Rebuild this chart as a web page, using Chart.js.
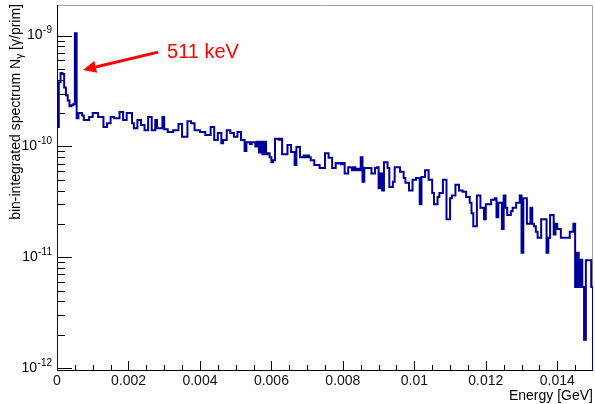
<!DOCTYPE html>
<html>
<head>
<meta charset="utf-8">
<script src="https://cdn.jsdelivr.net/npm/chart.js@4.4.0/dist/chart.umd.min.js"></script>
<style>
  html, body { margin: 0; padding: 0; background: #fff; }
</style>
</head>
<body>
<canvas id="spectrum" width="595" height="404"></canvas>
<script>
// histogram binning (GeV)
const binWidth = 0.00005;
const eMax = 0.015;

// bin-integrated spectrum, units of 1e-10 gamma/prim
const yieldLow = [
  1.5, 3.8, 4.6, 4.5, 3.4, 2.9, 2.6, 2.3, 2.35, 2.4,
  10.5, 1.8, 2.0, 2.0, 1.9, 1.73, 1.73, 1.73, 1.84, 1.84,
  2.0, 2.0, 2.0, 1.84, 1.84, 1.84, 1.5, 1.5, 1.62, 1.62,
  1.84, 1.84, 1.8, 1.8, 1.8, 2.04, 2.04, 1.73, 1.73, 2.0,
  2.0, 2.0, 1.62, 1.46, 1.46, 1.73, 1.73, 1.56, 1.56, 1.4,
  1.4, 1.84, 1.84, 1.4, 1.4, 1.73, 1.46, 1.46, 1.46, 1.84,
  1.43, 1.43, 1.35, 1.35, 1.35, 1.4, 1.4, 1.4, 1.59, 1.59,
  1.22, 1.22, 1.22, 1.69, 1.69, 1.62, 1.62, 1.4, 1.4, 1.4,
  1.35, 1.35, 1.35, 1.27, 1.27, 1.27, 1.5, 1.5, 1.14, 1.14,
  1.32, 1.32, 1.07, 1.14, 1.14, 1.4, 1.4, 1.32, 1.32, 1.22
];
const yieldMid = [
  1.22, 1.35, 1.35, 1.14, 1.14, 0.91, 1.09, 1.09, 1.05, 1.09,
  1.09, 1.0, 1.1, 0.88, 1.1, 0.85, 1.1, 0.85, 0.87, 0.8,
  0.72, 0.75, 1.17, 1.17, 1.15, 1.17, 0.85, 0.85, 0.85, 1.03,
  1.03, 0.89, 0.89, 0.68, 0.99, 0.99, 0.8, 0.8, 0.83, 0.8,
  0.83, 0.8, 0.75, 0.75, 0.68, 0.68, 0.68, 0.64, 0.64, 0.64,
  0.87, 0.87, 0.79, 0.79, 0.64, 0.64, 0.71, 0.7, 0.71, 0.69,
  0.71, 0.57, 0.57, 0.65, 0.65, 0.61, 0.65, 0.61, 0.63, 0.61,
  0.8, 0.48, 0.64, 0.64, 0.64, 0.64, 0.57, 0.57, 0.64, 0.65,
  0.42, 0.57, 0.40, 0.72, 0.72, 0.64, 0.43, 0.43, 0.48, 0.65,
  0.65, 0.65, 0.59, 0.59, 0.52, 0.47, 0.47, 0.40, 0.40, 0.5
];
const yieldHigh = [
  0.5, 0.52, 0.52, 0.3, 0.53, 0.53, 0.61, 0.61, 0.5, 0.5,
  0.38, 0.3, 0.3, 0.35, 0.38, 0.38, 0.5, 0.5, 0.22, 0.22,
  0.34, 0.36, 0.36, 0.45, 0.45, 0.4, 0.4, 0.39, 0.39, 0.35,
  0.35, 0.31, 0.25, 0.19, 0.19, 0.36, 0.36, 0.28, 0.28, 0.22,
  0.3, 0.3, 0.3, 0.33, 0.33, 0.34, 0.23, 0.31, 0.31, 0.18,
  0.36, 0.28, 0.24, 0.24, 0.26, 0.28, 0.28, 0.31, 0.31, 0.36,
  0.11, 0.34, 0.34, 0.2, 0.2, 0.28, 0.2, 0.19, 0.17, 0.15,
  0.15, 0.22, 0.22, 0.22, 0.11, 0.15, 0.24, 0.24, 0.16, 0.2,
  0.18, 0.18, 0.15, 0.15, 0.15, 0.15, 0.15, 0.17, 0.17, 0.2,
  0.054, 0.11, 0.054, 0.095, 0.054, 0.018, 0.094, 0.094, 0.094, 0.054
];

const xTickValues = [0, 0.002, 0.004, 0.006, 0.008, 0.01, 0.012, 0.014];
const yDecades = [-12, -11, -10, -9];
const yMin = 9.4e-13;
const yMax = 1.89e-9;

// 511 keV annotation (data coordinates)
const note = { text: "511 keV", tip: [0.00073, 4.9e-10], tail: [0.00283, 7.1e-10], label: [0.00308, 7.1e-10] };

const font = "'Liberation Sans', Arial, Helvetica, sans-serif";
const lineBlue = "#000099";

// build step outline: starts and ends on the axis floor like ROOT's HIST
const yields = yieldLow.concat(yieldMid, yieldHigh);
const points = [{ x: 0, y: yMin }];
yields.forEach((v, i) => points.push({ x: i * binWidth, y: v * 1e-10 }));
points.push({ x: eMax, y: yMin });

const rootAxes = {
  id: "rootAxes",
  beforeDatasetsDraw(chart) {
    const { ctx, chartArea: a, scales: { x, y } } = chart;
    ctx.save();
    // frame
    ctx.lineWidth = 1;
    ctx.strokeStyle = "#a0a0a0";
    ctx.beginPath();
    ctx.moveTo(a.left, a.top + 0.5);
    ctx.lineTo(a.right - 0.5, a.top + 0.5);
    ctx.lineTo(a.right - 0.5, a.bottom);
    ctx.stroke();
    ctx.strokeStyle = "#000";
    ctx.beginPath();
    ctx.moveTo(a.left + 0.5, a.top);
    ctx.lineTo(a.left + 0.5, a.bottom);
    ctx.moveTo(a.left, a.bottom - 0.5);
    ctx.lineTo(a.right, a.bottom - 0.5);
    ctx.stroke();

    // x ticks, minor every 0.0005
    ctx.beginPath();
    for (let k = 0; k < 30; k++) {
      const px = Math.round(x.getPixelForValue(k * 0.0005)) + 0.5;
      const len = k % 4 === 0 ? 10 : 6;
      ctx.moveTo(px, a.bottom);
      ctx.lineTo(px, a.bottom - len);
    }
    // y ticks, 1..9 per decade
    for (let n = -13; n <= -9; n++) {
      for (let m = 1; m <= 9; m++) {
        const v = m * Math.pow(10, n);
        if (v < yMin || v > yMax) continue;
        const py = Math.round(y.getPixelForValue(v)) + 0.5;
        ctx.moveTo(a.left, py);
        ctx.lineTo(a.left + (m === 1 ? 15 : 8), py);
      }
    }
    ctx.stroke();

    // y labels 10^n
    ctx.fillStyle = "#000";
    ctx.textBaseline = "middle";
    yDecades.forEach(n => {
      const py = y.getPixelForValue(Math.pow(10, n));
      const exp = String(n);
      ctx.font = "10px " + font;
      const ew = ctx.measureText(exp).width;
      ctx.textAlign = "left";
      ctx.fillText(exp, 52 - ew, py - 5);
      ctx.font = "14px " + font;
      ctx.textAlign = "right";
      ctx.fillText("10", 52 - ew - 0.5, py);
    });

    // x title
    ctx.font = "14px " + font;
    ctx.textAlign = "right";
    ctx.fillText("Energy [GeV]", a.right, 396);

    // y title, end aligned to top of axis
    ctx.translate(16, 4);
    ctx.rotate(-Math.PI / 2);
    const p1 = "bin-integrated spectrum N", p2 = "\u03b3", p3 = " [\u03b3/prim]";
    ctx.font = "14px " + font;
    const w1 = ctx.measureText(p1).width, w3 = ctx.measureText(p3).width;
    ctx.font = "10px " + font;
    const w2 = ctx.measureText(p2).width;
    let cx = -(w1 + w2 + w3);
    ctx.textAlign = "left";
    ctx.font = "14px " + font;
    ctx.fillText(p1, cx, 0);
    cx += w1;
    ctx.font = "10px " + font;
    ctx.fillText(p2, cx, 4);
    cx += w2;
    ctx.font = "14px " + font;
    ctx.fillText(p3, cx, 0);
    ctx.restore();
  },
  afterDatasetsDraw(chart) {
    const { ctx, scales: { x, y } } = chart;
    const tx = x.getPixelForValue(note.tip[0]), ty = y.getPixelForValue(note.tip[1]);
    const sx = x.getPixelForValue(note.tail[0]), sy = y.getPixelForValue(note.tail[1]);
    const ang = Math.atan2(ty - sy, tx - sx);
    const headLen = 13, headHalf = 6;
    const bx = tx - headLen * Math.cos(ang), by = ty - headLen * Math.sin(ang);
    ctx.save();
    ctx.strokeStyle = "#ff0000";
    ctx.fillStyle = "#ff0000";
    ctx.lineWidth = 3;
    ctx.beginPath();
    ctx.moveTo(sx, sy);
    ctx.lineTo(bx, by);
    ctx.stroke();
    ctx.beginPath();
    ctx.moveTo(tx, ty);
    ctx.lineTo(bx + headHalf * Math.sin(ang), by - headHalf * Math.cos(ang));
    ctx.lineTo(bx - headHalf * Math.sin(ang), by + headHalf * Math.cos(ang));
    ctx.closePath();
    ctx.fill();
    ctx.font = "20px " + font;
    ctx.textAlign = "left";
    ctx.textBaseline = "middle";
    ctx.fillText(note.text, x.getPixelForValue(note.label[0]), y.getPixelForValue(note.label[1]));
    ctx.restore();
  }
};

new Chart(document.getElementById("spectrum"), {
  type: "line",
  data: {
    datasets: [{
      data: points,
      stepped: "before",
      borderColor: lineBlue,
      borderWidth: 2,
      borderJoinStyle: "miter",
      pointRadius: 0,
      fill: false
    }]
  },
  options: {
    responsive: false,
    animation: false,
    events: [],
    layout: { padding: { top: 5, right: 2, left: 0, bottom: 0 } },
    plugins: { legend: { display: false }, tooltip: { enabled: false } },
    scales: {
      x: {
        type: "linear",
        min: 0,
        max: eMax,
        grid: { display: false, drawTicks: false },
        border: { display: false },
        afterBuildTicks: s => { s.ticks = xTickValues.map(v => ({ value: v })); },
        afterFit: s => { s.height = 33; },
        ticks: {
          maxRotation: 0,
          autoSkip: false,
          padding: 2,
          color: "#111",
          font: { family: font, size: 14 },
          callback: v => String(+v.toFixed(4))
        }
      },
      y: {
        type: "logarithmic",
        min: yMin,
        max: yMax,
        grid: { display: false, drawTicks: false },
        border: { display: false },
        ticks: { display: false },
        afterFit: s => { s.width = 57; }
      }
    }
  },
  plugins: [rootAxes]
});
</script>
</body>
</html>
